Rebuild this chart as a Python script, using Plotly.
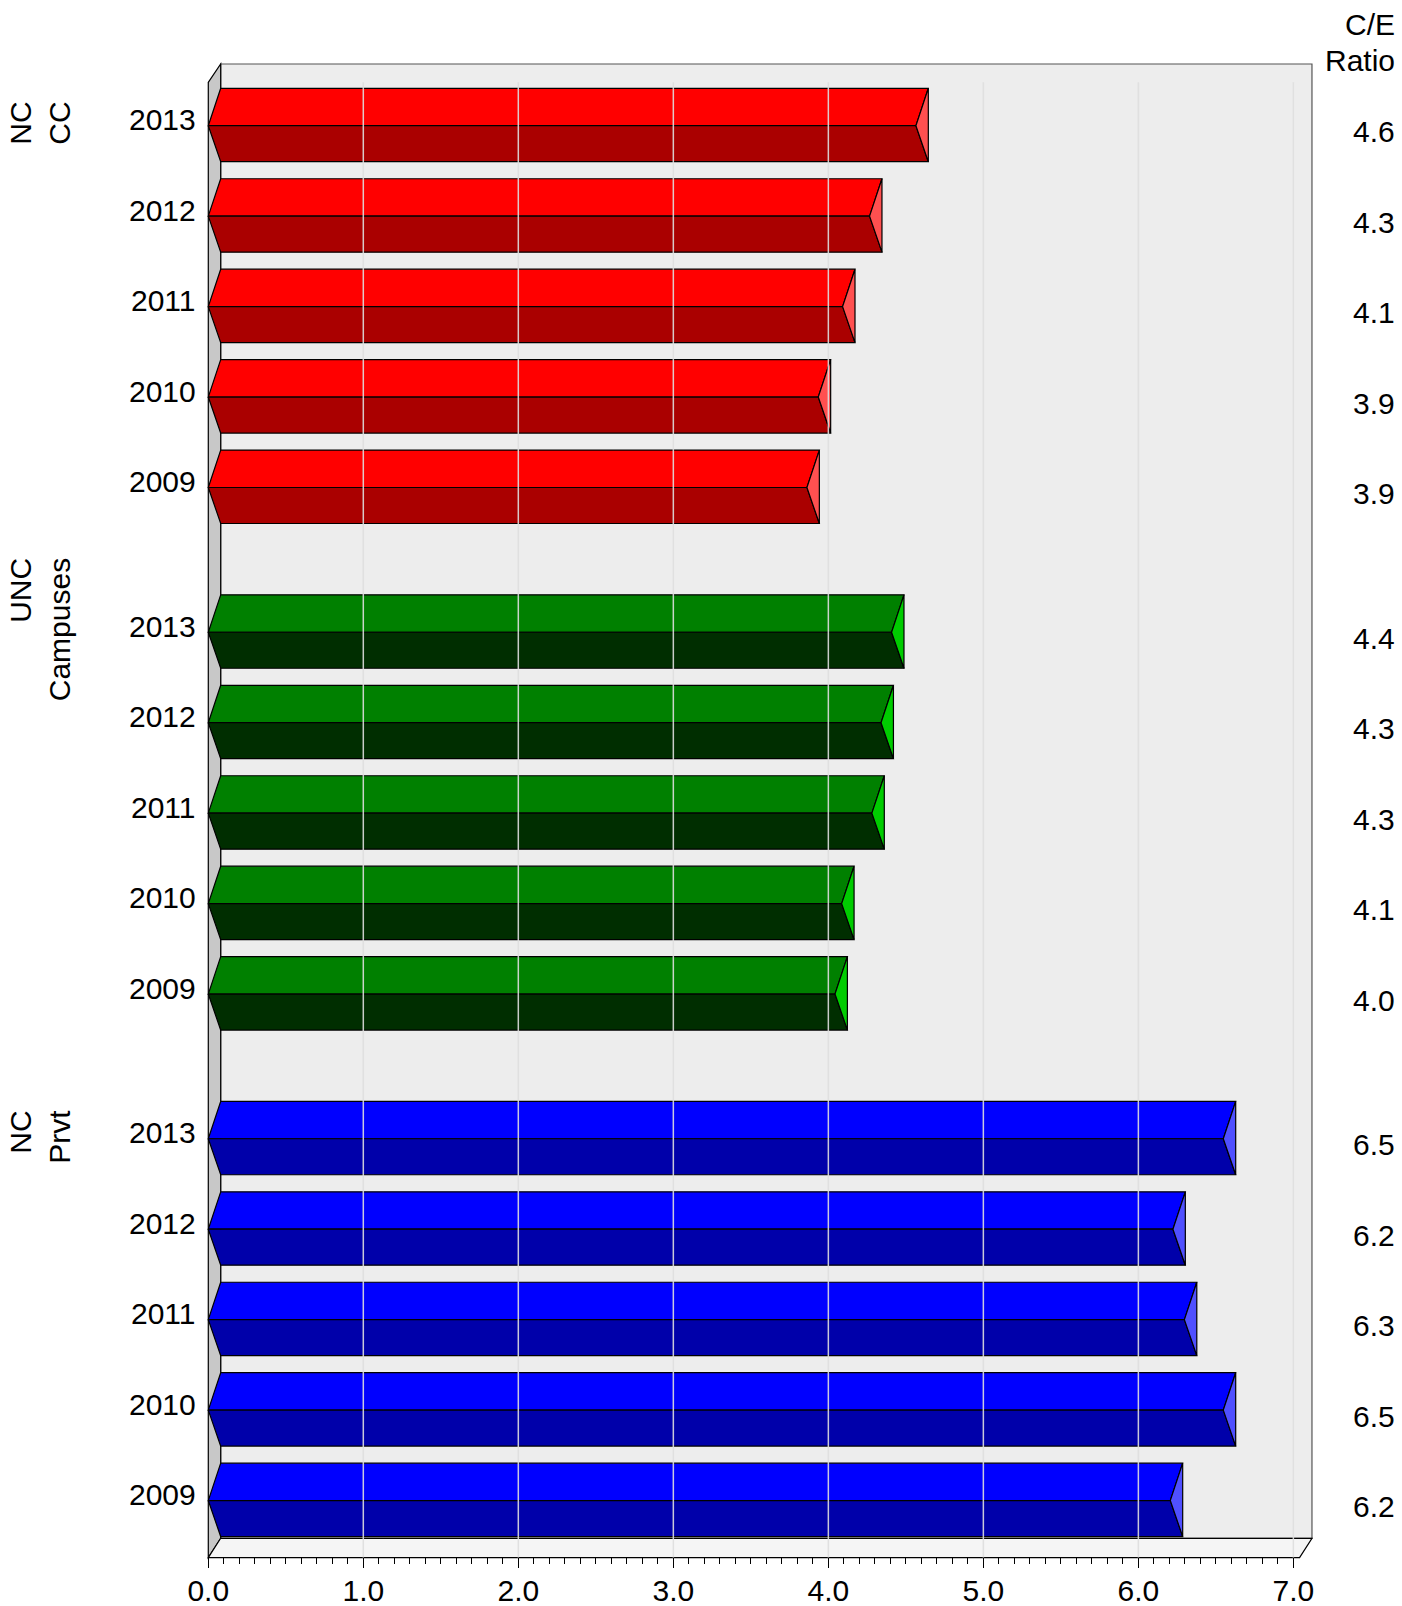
"""Three-group horizontal prism-bar chart of C/E ratios, 2009-2013."""

import numpy as np
import plotly.graph_objects as go

FONT = "Liberation Sans, Arial, sans-serif"

YEARS = ["2013", "2012", "2011", "2010", "2009"]
GROUPS = ["NC<br>CC", "UNC<br>Campuses", "NC<br>Prvt"]

NC_CC = [4.565, 4.266, 4.092, 3.935, 3.862]
UNC = [4.408, 4.34, 4.281, 4.086, 4.043]
NC_PRVT = [6.548, 6.223, 6.297, 6.548, 6.206]

# slot positions (top to bottom); groups separated by a 0.6-slot gap
GROUP_START = [0.0, 5.6, 11.2]

X_TICKS = [0, 1, 2, 3, 4, 5, 6, 7]
X_TICKTEXT = ["0.0", "1.0", "2.0", "3.0", "4.0", "5.0", "6.0", "7.0"]

# colours: top face, bottom face, end cap
COLORS = [
    ("#FF0000", "#AA0000", "#FF5050"),
    ("#008000", "#002E00", "#00CC00"),
    ("#0000FF", "#0000AA", "#5050FF"),
]

# pseudo-3d frame
DX = 0.08          # depth offset in x units
Y_TOP = -0.4135    # bar back-top edge relative to its centre line
Y_BOT = 0.398      # bar front-bottom edge
WALL_TOP = -0.682
FRONT_TOP = -0.48
FLOOR_BACK = 15.617
FLOOR_FRONT = 15.83
X_END = 7.12

W, H = 1402, 1606
X_RANGE = [-0.0535, 7.146]
Y_RANGE = [15.857, -0.7264]
FONT_SIZE = 30


def _prism_paths(values, positions):
    top_x, top_y, bot_x, bot_y, cap_x, cap_y = [], [], [], [], [], []
    for v, y in zip(values, positions):
        top_x += [DX, v + DX, v, 0, DX, None]
        top_y += [y + Y_TOP, y + Y_TOP, y, y, y + Y_TOP, None]
        bot_x += [0, v, v + DX, DX, 0, None]
        bot_y += [y, y, y + Y_BOT, y + Y_BOT, y, None]
        cap_x += [v + DX, v + DX, v, v + DX, None]
        cap_y += [y + Y_TOP, y + Y_BOT, y, y + Y_TOP, None]
    return (top_x, top_y), (bot_x, bot_y), (cap_x, cap_y)


fig = go.Figure()
text_font = {"family": FONT, "size": FONT_SIZE, "color": "black"}

for values, start, cols in zip([NC_CC, UNC, NC_PRVT], GROUP_START, COLORS):
    positions = [start + i for i in range(len(values))]
    for (px, py), col in zip(_prism_paths(values, positions), cols):
        fig.add_trace(
            go.Scatter(
                x=px, y=py, mode="lines", fill="toself", fillcolor=col,
                line={"color": "#000000", "width": 1.2},
                hoverinfo="skip", showlegend=False,
            )
        )
    for year, v, y in zip(YEARS, values, positions):
        fig.add_annotation(
            text=year, xref="paper", yref="y", x=198 / W, y=y, yshift=6,
            xanchor="right", yanchor="middle", showarrow=False,
            font=text_font,
        )
        fig.add_annotation(
            text=f"{v:.1f}", xref="paper", yref="y", x=1397 / W, y=y,
            yshift=-6, xanchor="right", yanchor="middle", showarrow=False,
            font=text_font,
        )

for label, start in zip(GROUPS, GROUP_START):
    fig.add_annotation(
        text=label, xref="paper", yref="y", x=40 / W, y=start, yshift=2,
        textangle=-90, align="right", xanchor="center", yanchor="middle",
        showarrow=False, font=text_font,
    )

for line, ypx in zip(["C/E", "Ratio"], [25, 60]):
    fig.add_annotation(
        text=line, xref="paper", yref="paper", x=1397 / W, y=1 - ypx / H,
        xanchor="right", yanchor="middle", showarrow=False, font=text_font,
    )

shapes = [
    # back wall
    dict(type="rect", xref="x", yref="y", x0=DX, x1=X_END, y0=WALL_TOP,
         y1=FLOOR_BACK, fillcolor="#EDEDED",
         line={"color": "#555555", "width": 1.2}, layer="below"),
    # left wall
    dict(type="path", xref="x", yref="y",
         path=f"M0,{FRONT_TOP} L{DX},{WALL_TOP} L{DX},{FLOOR_BACK} "
              f"L0,{FLOOR_FRONT} Z",
         fillcolor="#C8C8C8", line={"color": "#000000", "width": 1.2},
         layer="below"),
    # floor
    dict(type="path", xref="x", yref="y",
         path=f"M0,{FLOOR_FRONT} L{DX},{FLOOR_BACK} L{X_END},{FLOOR_BACK} "
              f"L{X_END - DX},{FLOOR_FRONT} Z",
         fillcolor="#F5F5F5", line={"color": "#000000", "width": 1.2},
         layer="below"),
]
for xv in X_TICKS[1:]:
    shapes.append(
        dict(type="line", xref="x", yref="y", x0=xv, x1=xv, y0=FRONT_TOP,
             y1=FLOOR_FRONT, line={"color": "rgba(222,222,222,0.9)", "width": 1.5},
             layer="above")
    )

fig.update_layout(
    width=W,
    height=H,
    autosize=False,
    margin={"l": 0, "r": 0, "t": 0, "b": 0, "pad": 0, "autoexpand": False},
    paper_bgcolor="white",
    plot_bgcolor="white",
    showlegend=False,
    shapes=shapes,
    xaxis={
        "range": X_RANGE,
        "domain": [200 / W, 1316 / W],
        "anchor": "free",
        "position": 1 - 1556.7 / H,
        "showgrid": False,
        "zeroline": False,
        "showline": False,
        "tickvals": X_TICKS,
        "ticktext": X_TICKTEXT,
        "ticks": "outside",
        "ticklen": 10,
        "tickwidth": 1,
        "tickcolor": "black",
        "ticklabelstandoff": -3,
        "tickfont": text_font,
        "minor": {
            "tickvals": list(np.round(np.arange(0, 7.001, 0.1), 1)),
            "ticks": "outside",
            "ticklen": 6,
            "tickwidth": 1,
            "tickcolor": "black",
            "showgrid": False,
        },
    },
    yaxis={
        "range": Y_RANGE,
        "domain": [1 - 1560 / H, 1 - 60 / H],
        "visible": False,
    },
)

fig.write_html(
    "out.html",
    config={"displayModeBar": False},
    post_script="document.body.style.margin='0';"
                "document.body.style.overflow='hidden';",
)
